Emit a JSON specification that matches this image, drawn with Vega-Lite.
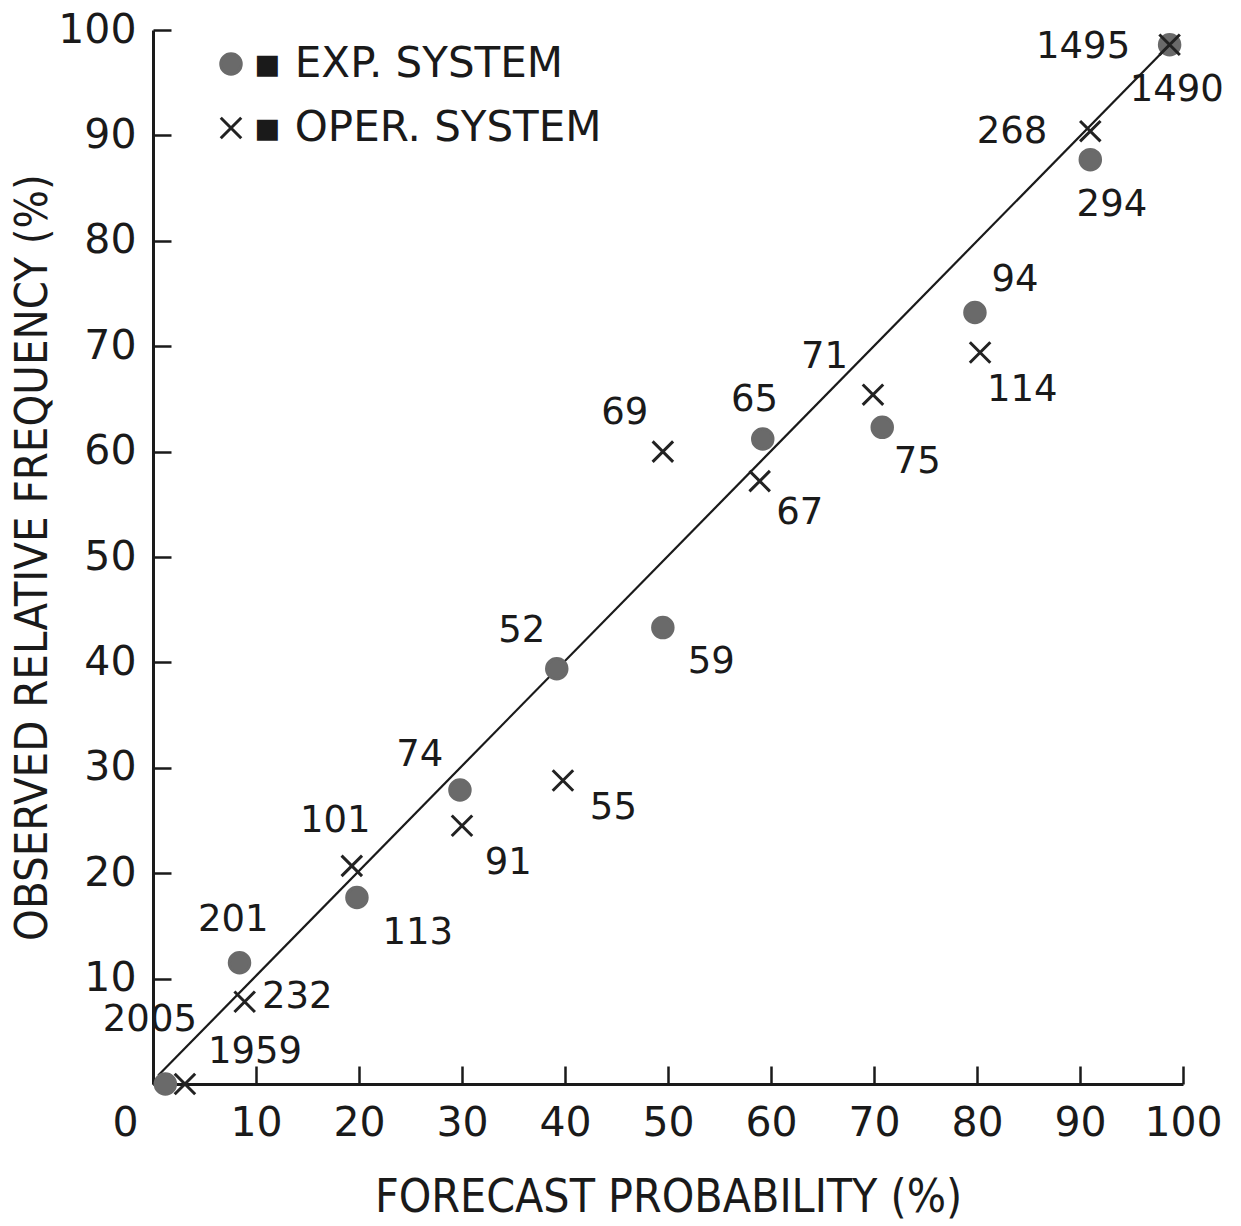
{
  "$schema": "https://vega.github.io/schema/vega-lite/v6.json",
  "width": 1030,
  "height": 1054,
  "autosize": {"type": "none"},
  "padding": {"left": 153, "top": 30, "right": 58, "bottom": 142},
  "background": "white",
  "config": {
    "view": {"stroke": null},
    "font": "DejaVu Sans",
    "axis": {
      "grid": false,
      "domainColor": "#1a1a1a",
      "domainWidth": 3,
      "tickColor": "#1a1a1a",
      "tickWidth": 2.5,
      "tickSize": -18,
      "labelFont": "DejaVu Sans",
      "labelFontSize": 41,
      "labelColor": "#1a1a1a",
      "labelOverlap": false,
      "labelFlush": false,
      "titleFont": "DejaVu Sans Condensed",
      "titleFontWeight": "normal",
      "titleColor": "#1a1a1a"
    }
  },
  "datasets": {
    "pts": [
      {"series": "EXP. SYSTEM", "x": 1.2, "y": 0.0, "n": "2005", "lx": -0.3, "ly": 6.1},
      {"series": "EXP. SYSTEM", "x": 8.4, "y": 11.5, "n": "201", "lx": 7.8, "ly": 15.6},
      {"series": "EXP. SYSTEM", "x": 19.8, "y": 17.7, "n": "113", "lx": 25.7, "ly": 14.3},
      {"series": "EXP. SYSTEM", "x": 29.8, "y": 27.9, "n": "74", "lx": 25.9, "ly": 31.2},
      {"series": "EXP. SYSTEM", "x": 39.2, "y": 39.4, "n": "52", "lx": 35.8, "ly": 43.0},
      {"series": "EXP. SYSTEM", "x": 49.5, "y": 43.3, "n": "59", "lx": 54.2, "ly": 40.0},
      {"series": "EXP. SYSTEM", "x": 59.2, "y": 61.2, "n": "65", "lx": 58.4, "ly": 64.9},
      {"series": "EXP. SYSTEM", "x": 70.8, "y": 62.3, "n": "75", "lx": 74.2, "ly": 59.0},
      {"series": "EXP. SYSTEM", "x": 79.8, "y": 73.2, "n": "94", "lx": 83.7, "ly": 76.3},
      {"series": "EXP. SYSTEM", "x": 91.0, "y": 87.7, "n": "294", "lx": 93.1, "ly": 83.4},
      {"series": "EXP. SYSTEM", "x": 98.7, "y": 98.6, "n": "1495", "lx": 90.3, "ly": 98.4},
      {"series": "OPER. SYSTEM", "x": 3.1, "y": 0.0, "n": "1959", "lx": 9.9, "ly": 3.0},
      {"series": "OPER. SYSTEM", "x": 8.9, "y": 7.8, "n": "232", "lx": 14.0, "ly": 8.3},
      {"series": "OPER. SYSTEM", "x": 19.3, "y": 20.7, "n": "101", "lx": 17.7, "ly": 25.0},
      {"series": "OPER. SYSTEM", "x": 30.0, "y": 24.5, "n": "91", "lx": 34.5, "ly": 21.0},
      {"series": "OPER. SYSTEM", "x": 39.8, "y": 28.8, "n": "55", "lx": 44.7, "ly": 26.2},
      {"series": "OPER. SYSTEM", "x": 49.5, "y": 60.0, "n": "69", "lx": 45.8, "ly": 63.7},
      {"series": "OPER. SYSTEM", "x": 58.9, "y": 57.2, "n": "67", "lx": 62.8, "ly": 54.2},
      {"series": "OPER. SYSTEM", "x": 69.9, "y": 65.4, "n": "71", "lx": 65.2, "ly": 69.0},
      {"series": "OPER. SYSTEM", "x": 80.3, "y": 69.4, "n": "114", "lx": 84.4, "ly": 65.8},
      {"series": "OPER. SYSTEM", "x": 91.0, "y": 90.4, "n": "268", "lx": 83.4, "ly": 90.3},
      {"series": "OPER. SYSTEM", "x": 98.7, "y": 98.6, "n": "1490", "lx": 99.4, "ly": 94.3}
    ],
    "diag": [
      {"x": 0.5, "y": 0.8},
      {"x": 98.7, "y": 98.6}
    ]
  },
  "layer": [
    {
      "data": {"name": "diag"},
      "mark": {"type": "line", "color": "#1a1a1a", "strokeWidth": 2.2},
      "encoding": {
        "x": {"field": "x", "type": "quantitative", "scale": {"domain": [0, 100], "nice": false},
          "axis": {"values": [0, 10, 20, 30, 40, 50, 60, 70, 80, 90, 100], "title": "FORECAST PROBABILITY (%)",
            "labelPadding": 37, "titlePadding": 32, "titleFontSize": 46,
            "labelOffset": {"condition": {"test": "datum.value === 0", "value": -28}, "value": 0}}},
        "y": {"field": "y", "type": "quantitative", "scale": {"domain": [0, 100], "nice": false},
          "axis": {"values": [0, 10, 20, 30, 40, 50, 60, 70, 80, 90, 100], "title": "OBSERVED RELATIVE FREQUENCY (%)",
            "labelExpr": "datum.value === 0 ? '' : datum.label", "labelPadding": 35, "titlePadding": 2, "titleFontSize": 45}}
      }
    },
    {
      "data": {"name": "pts"},
      "mark": {"type": "point", "strokeWidth": 3, "opacity": 1},
      "encoding": {
        "x": {"field": "x", "type": "quantitative"},
        "y": {"field": "y", "type": "quantitative"},
        "shape": {"field": "series", "type": "nominal",
          "scale": {"domain": ["EXP. SYSTEM", "OPER. SYSTEM"], "range": ["circle", "M-1,-1L1,1M-1,1L1,-1"]},
          "legend": {"orient": "none", "legendX": 57, "legendY": 13, "title": null,
            "labelExpr": "'\u25aa   ' + datum.label", "labelFontSize": 42, "labelFont": "DejaVu Sans", "labelColor": "#1a1a1a",
            "labelLimit": 600,
            "symbolSize": 420, "symbolStrokeWidth": 3, "rowPadding": 22, "labelOffset": 1}},
        "fill": {"field": "series", "type": "nominal",
          "scale": {"domain": ["EXP. SYSTEM", "OPER. SYSTEM"], "range": ["#6a6a6a", "transparent"]}},
        "stroke": {"field": "series", "type": "nominal",
          "scale": {"domain": ["EXP. SYSTEM", "OPER. SYSTEM"], "range": ["#6a6a6a", "#222222"]}},
        "size": {"value": 420}
      }
    },
    {
      "data": {"name": "pts"},
      "mark": {"type": "text", "fontSize": 37, "font": "DejaVu Sans", "color": "#1a1a1a", "align": "center", "baseline": "middle"},
      "encoding": {
        "x": {"field": "lx", "type": "quantitative"},
        "y": {"field": "ly", "type": "quantitative"},
        "text": {"field": "n"}
      }
    }
  ]
}
